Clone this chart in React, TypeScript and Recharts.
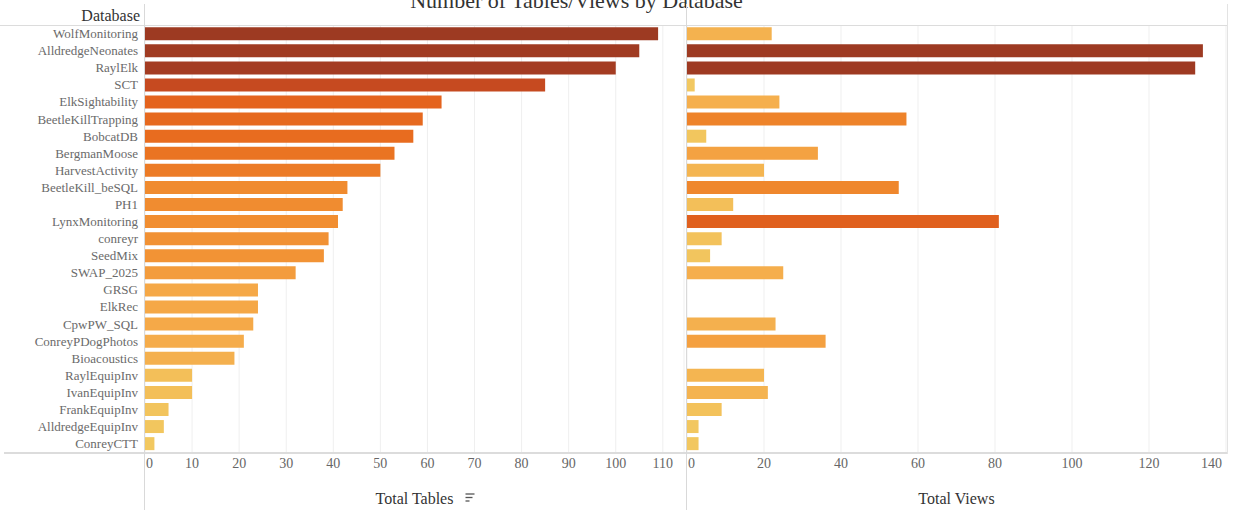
import React from "react";
import { Bar, BarChart, CartesianGrid, Cell, XAxis, YAxis } from "recharts";

const databases = [
  "WolfMonitoring", "AlldredgeNeonates", "RaylElk", "SCT", "ElkSightability",
  "BeetleKillTrapping", "BobcatDB", "BergmanMoose", "HarvestActivity", "BeetleKill_beSQL",
  "PH1", "LynxMonitoring", "conreyr", "SeedMix", "SWAP_2025",
  "GRSG", "ElkRec", "CpwPW_SQL", "ConreyPDogPhotos", "Bioacoustics",
  "RaylEquipInv", "IvanEquipInv", "FrankEquipInv", "AlldredgeEquipInv", "ConreyCTT",
];
const totalTables = [109, 105, 100, 85, 63, 59, 57, 53, 50, 43, 42, 41, 39, 38, 32, 24, 24, 23, 21, 19, 10, 10, 5, 4, 2];
const totalViews = [22, 134, 132, 2, 24, 57, 5, 34, 20, 55, 12, 81, 9, 6, 25, 0, 0, 23, 36, 0, 20, 21, 9, 3, 3];
const tableTicks = [0, 10, 20, 30, 40, 50, 60, 70, 80, 90, 100, 110];
const viewTicks = [0, 20, 40, 60, 80, 100, 120, 140];

const data = databases.map((name, i) => ({ name, tables: totalTables[i], views: totalViews[i] }));

const FONT = "'Liberation Serif', 'Times New Roman', serif";

// orange-gold ramp, t = value / panel max
const stops: [number, number[]][] = [
  [0, [242, 202, 98]],
  [0.1, [243, 190, 88]],
  [0.2, [245, 171, 74]],
  [0.3, [243, 155, 60]],
  [0.4, [240, 138, 46]],
  [0.5, [233, 112, 32]],
  [0.58, [228, 99, 30]],
  [0.78, [198, 74, 32]],
  [0.92, [163, 60, 34]],
  [1, [157, 58, 34]],
];

function rampColor(t: number) {
  for (let i = 1; i < stops.length; i++) {
    const [t1, c1] = stops[i];
    const [t0, c0] = stops[i - 1];
    if (t <= t1) {
      const f = (t - t0) / (t1 - t0);
      const c = c0.map((v, k) => Math.round(v + (c1[k] - v) * f));
      return `rgb(${c[0]},${c[1]},${c[2]})`;
    }
  }
  return "rgb(157,58,34)";
}

const maxTables = Math.max(...totalTables);
const maxViews = Math.max(...totalViews);

function AxisTitle({ viewBox, text, sortIcon }: { viewBox?: any; text: string; sortIcon?: boolean }) {
  const cx = viewBox.x + viewBox.width / 2;
  const y = viewBox.y + viewBox.height - 6;
  return (
    <g>
      <text x={cx} y={y} textAnchor="middle" fill="#333" fontSize={16} fontFamily={FONT}>
        {text}
      </text>
      {sortIcon ? (
        <g stroke="#555" strokeWidth={1.3}>
          <line x1={cx + 51} x2={cx + 60} y1={y - 10} y2={y - 10} />
          <line x1={cx + 51} x2={cx + 58} y1={y - 6.5} y2={y - 6.5} />
          <line x1={cx + 51} x2={cx + 55} y1={y - 3} y2={y - 3} />
        </g>
      ) : null}
    </g>
  );
}

// edge labels are pulled inside the panel, like the original dashboard
function EdgeTick({ x, y, payload, last }: { x?: number; y?: number; payload?: any; last: number }) {
  const v = payload.value;
  let anchor = "middle";
  let dx = 0;
  if (v === 0) {
    anchor = "start";
    dx = 1;
  } else if (v === last) {
    anchor = "end";
    dx = -4;
  }
  return (
    <text x={(x as number) + dx} y={(y as number) + 11} textAnchor={anchor} fill="#666" fontSize={14} fontFamily={FONT}>
      {v}
    </text>
  );
}

export default function App() {
  return (
    <div style={{ position: "absolute", left: 0, top: 0, width: 1233, height: 510, background: "#fff", overflow: "hidden", fontFamily: FONT }}>
      <div style={{ position: "absolute", left: 0, width: 1153, top: -10, textAlign: "center", fontSize: 22, lineHeight: "22px", color: "#333" }}>
        Number of Tables/Views by Database
      </div>
      <div style={{ position: "absolute", right: 1233 - 140, top: 7, fontSize: 16, lineHeight: "18px", color: "#333" }}>
        Database
      </div>

      <div style={{ position: "absolute", left: 0, top: 0 }}>
        <BarChart layout="vertical" width={686} height={510} data={data} margin={{ top: 25, right: 2, bottom: 0, left: 0 }} barCategoryGap="13%">
          <CartesianGrid horizontal={false} stroke="#efefef" />
          <XAxis
            type="number"
            dataKey="tables"
            domain={[0, 114.5]}
            ticks={tableTicks}
            interval={0}
            height={58}
            tickSize={0}
            tickMargin={5}
            axisLine={false}
            tick={(p: any) => <EdgeTick {...p} last={-1} />}
            label={(props: any) => <AxisTitle {...props} text="Total Tables" sortIcon />}
          />
          <YAxis
            type="category"
            dataKey="name"
            width={145}
            tickSize={0}
            tickMargin={7}
            axisLine={false}
            interval={0}
            tick={{ fill: "#6a6a6a", fontSize: 13, fontFamily: FONT }}
          />
          <Bar dataKey="tables" isAnimationActive={false}>
            {data.map((d) => (
              <Cell key={d.name} fill={rampColor(d.tables / maxTables)} />
            ))}
          </Bar>
        </BarChart>
      </div>

      <div style={{ position: "absolute", left: 686, top: 0 }}>
        <BarChart layout="vertical" width={545} height={510} data={data} margin={{ top: 25, right: 5, bottom: 0, left: 1 }} barCategoryGap="13%">
          <CartesianGrid horizontal={false} stroke="#efefef" />
          <XAxis
            type="number"
            dataKey="views"
            domain={[0, 140]}
            ticks={viewTicks}
            interval={0}
            height={58}
            tickSize={0}
            tickMargin={5}
            axisLine={false}
            tick={(p: any) => <EdgeTick {...p} last={140} />}
            label={(props: any) => <AxisTitle {...props} text="Total Views" />}
          />
          <YAxis type="category" dataKey="name" width={0} hide />
          <Bar dataKey="views" isAnimationActive={false}>
            {data.map((d) => (
              <Cell key={d.name} fill={rampColor(d.views / maxViews)} />
            ))}
          </Bar>
        </BarChart>
      </div>

      {/* frame lines */}
      <div style={{ position: "absolute", left: 0, width: 1228, top: 25, height: 1, background: "#dcdcdc" }} />
      <div style={{ position: "absolute", left: 4, width: 1224, top: 452, height: 2, background: "#dcdcdc" }} />
      <div style={{ position: "absolute", left: 144, width: 1, top: 4, height: 506, background: "#d9d9d9" }} />
      <div style={{ position: "absolute", left: 686, width: 1, top: 4, height: 506, background: "#d9d9d9" }} />
      <div style={{ position: "absolute", left: 1227, width: 1, top: 4, height: 450, background: "#e3e3e3" }} />
    </div>
  );
}
